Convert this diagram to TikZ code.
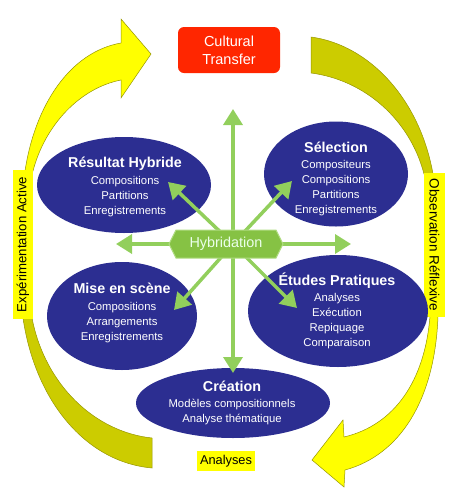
\documentclass[tikz,border=0pt]{standalone}
\usepackage{fontspec}
\setmainfont{Liberation Sans}
\usetikzlibrary{shapes.geometric,shapes.symbols,arrows.meta}
\definecolor{blobblue}{RGB}{44,46,145}
\definecolor{ftred}{RGB}{255,38,0}
\definecolor{yel}{RGB}{255,255,0}
\definecolor{olive1}{RGB}{204,204,0}
\definecolor{oliveline}{RGB}{150,150,0}
\definecolor{gline}{RGB}{146,207,92}
\definecolor{hexfill}{RGB}{134,194,68}
\definecolor{hexborder}{RGB}{176,220,130}
\tikzset{
  blob/.style={ellipse, fill=blobblue, draw=none, inner sep=0pt},
  blobtext/.style={text=white, align=center, inner sep=0pt, font=\fontsize{11.3pt}{15pt}\selectfont},
  garrow/.style={draw=gline, line width=3.5pt, -{Triangle[length=16pt,width=19pt]}},
  bigyellow/.style={fill=yel, draw=oliveline, line width=0.5pt},
  olivearc/.style={fill=olive1, draw=oliveline, line width=0.5pt},
  sidebar/.style={fill=yel, draw=none, inner sep=0pt, text=black},
}
\newcommand{\ttl}[1]{{\fontsize{14.3pt}{15pt}\selectfont\bfseries #1}\\[1.5pt]}
\begin{document}
\begin{tikzpicture}[x=1pt,y=-1pt]
\useasboundingbox (0,0) rectangle (456,491);
% curved arrows and arcs
\path[bigyellow] (25,171) .. controls (35,105) and (70,52) .. (121,43) -- (121,19) -- (151,54) -- (121,98) -- (121,80) .. controls (80,88) and (45,125) .. (33,171) -- cycle;
\path[olivearc] (311,37) .. controls (370,45) and (420,100) .. (433,174) -- (424,174) .. controls (410,120) and (365,80) .. (311,73) -- cycle;
\path[bigyellow] (430,316) .. controls (425,380) and (395,425) .. (344,437) -- (343,420) -- (312,460) -- (344,487) -- (345,470) .. controls (400,455) and (435,400) .. (438,316) -- cycle;
\path[olivearc] (23,318) .. controls (35,400) and (85,462) .. (152,468) -- (152,438) .. controls (95,432) and (45,385) .. (32,318) -- cycle;
% side labels
\node[sidebar, rotate=90, minimum width=149pt, minimum height=20pt, font=\fontsize{13.2pt}{15pt}\selectfont] (left) at (23,244.5) {Expérimentation Active};
\node[sidebar, rotate=-90, minimum width=144pt, minimum height=21pt, font=\fontsize{13.5pt}{15pt}\selectfont] (right) at (434.5,245) {Observation Réflexive};
\node[sidebar, minimum width=58pt, minimum height=20pt, font=\fontsize{12.8pt}{15pt}\selectfont] (analyses) at (226,461) {Analyses};
% top box
\node[fill=ftred, rounded corners=6pt, minimum width=102pt, minimum height=46pt, text=white, align=center, inner sep=0pt, font=\fontsize{14.5pt}{18pt}\selectfont] (ct) at (229,50) {Cultural\\Transfer};
% ellipses
\node[blob, minimum width=174pt, minimum height=96pt] (rh) at (124,185) {};
\node[blob, minimum width=144pt, minimum height=105pt] (sel) at (336,174) {};
\node[blob, minimum width=150pt, minimum height=108pt] (mes) at (122,316) {};
\node[blob, minimum width=180pt, minimum height=112pt] (ep) at (338,311) {};
\node[blob, minimum width=194pt, minimum height=70pt] (cre) at (233,403) {};
% green arrows
\coordinate (c) at (233,244);
\coordinate (tup) at (233,109);
\coordinate (tdown) at (233,373);
\coordinate (tleft) at (116,244);
\coordinate (tright) at (351,244);
\coordinate (tul) at (168,182);
\coordinate (tur) at (292,181);
\coordinate (tdl) at (174,310);
\coordinate (tdr) at (297,308);
\foreach \t in {tup,tdown,tleft,tright,tul,tur,tdl,tdr} \draw[garrow] (c) -- (\t);
% hexagon
\node[signal, signal to=east and west, signal pointer angle=127, fill=hexfill, draw=hexborder, line width=1pt, minimum width=114pt, minimum height=28pt, inner sep=0pt, text=white!92!green, font=\fontsize{14.4pt}{15pt}\selectfont] (hyb) at (226,244) {Hybridation};
% texts
\node[blobtext] (rht) at (125,187) {\ttl{Résultat Hybride}Compositions\\Partitions\\Enregistrements};
\node[blobtext] (selt) at (336,179) {\ttl{Sélection}Compositeurs\\Compositions\\Partitions\\Enregistrements};
\node[blobtext] (mest) at (122,313) {\ttl{Mise en scène}Compositions\\Arrangements\\Enregistrements};
\node[blobtext] (ept) at (337,311) {\ttl{Études Pratiques}Analyses\\Exécution\\Repiquage\\Comparaison};
\node[blobtext] (cret) at (232,403) {\ttl{Création}Modèles compositionnels\\Analyse thématique};
\end{tikzpicture}
\end{document}
